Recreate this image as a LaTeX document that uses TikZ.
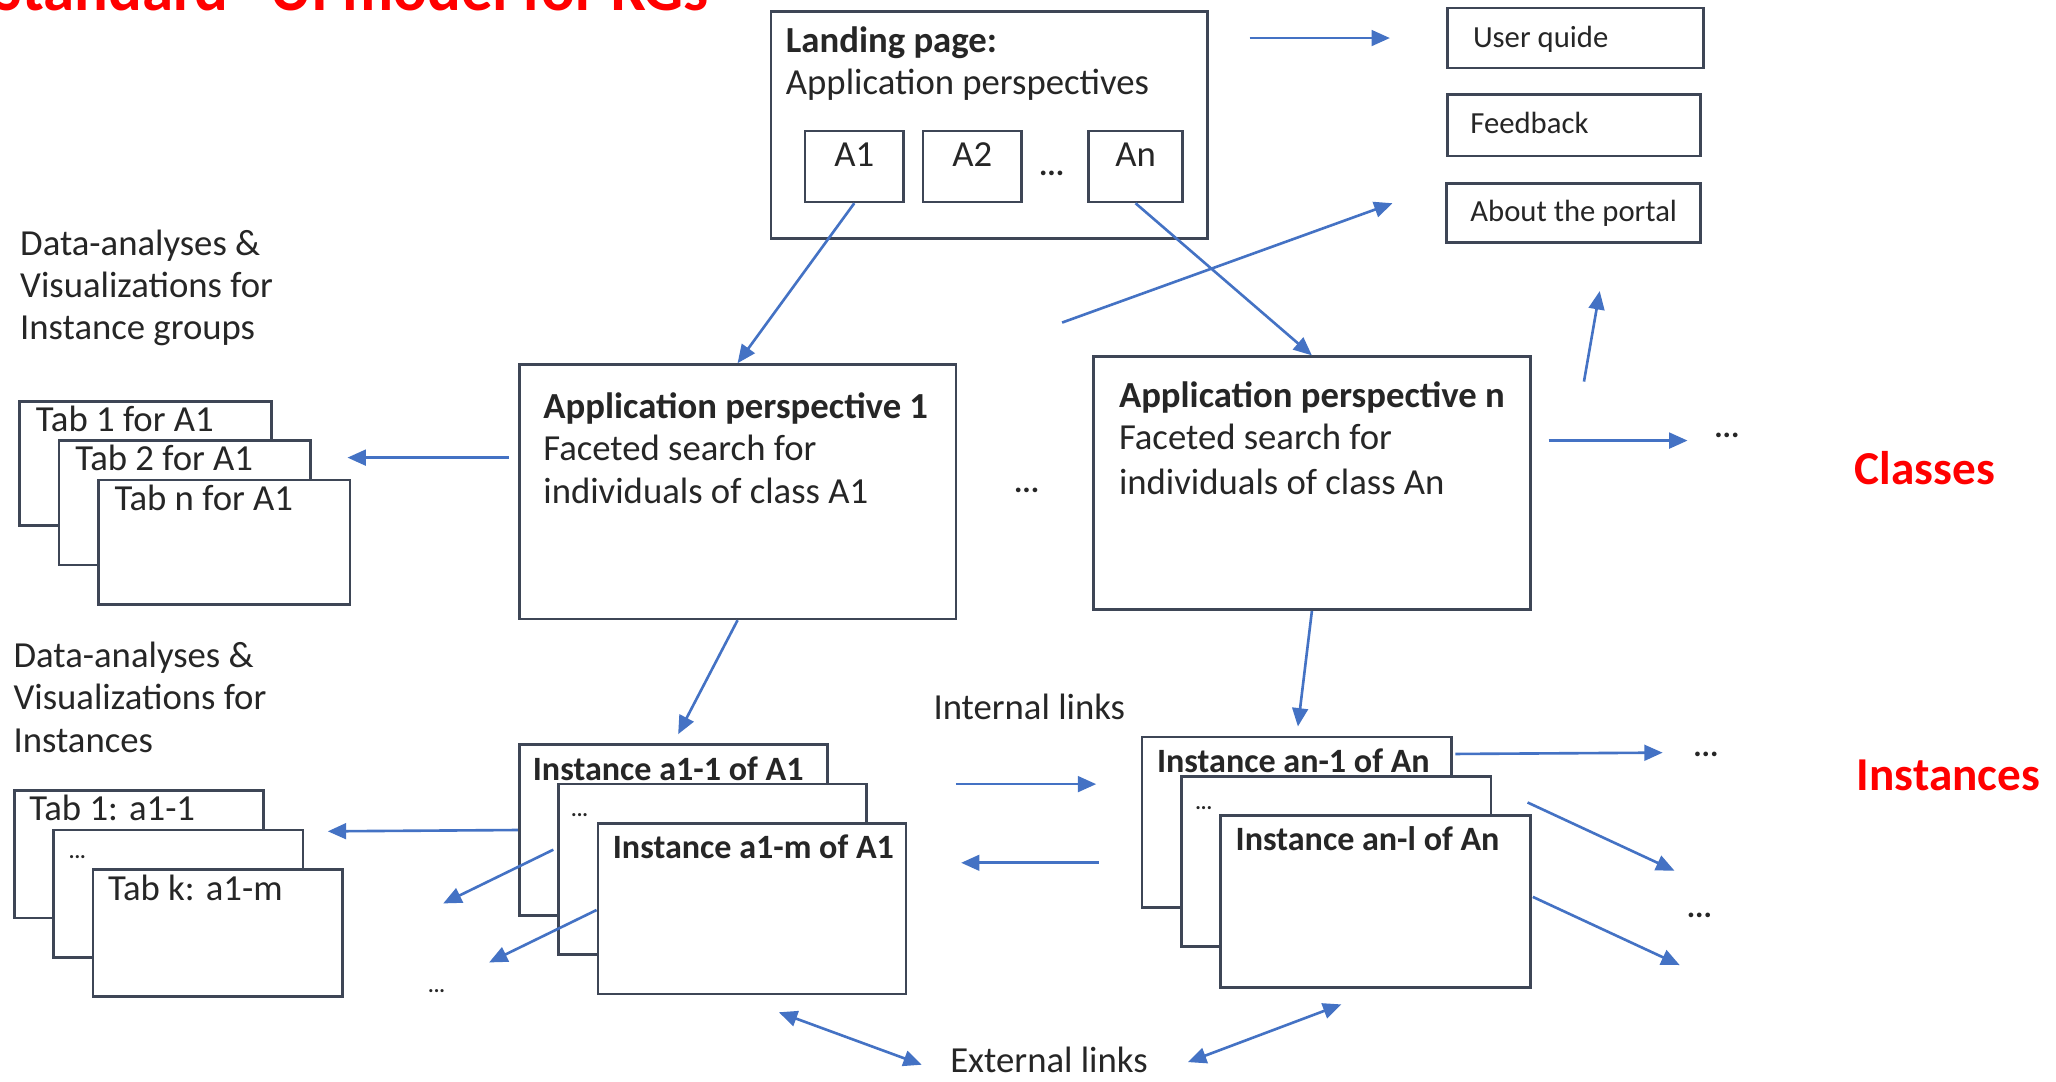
\documentclass[tikz,border=0pt]{standalone}
\usepackage{fontspec}
\setmainfont{Carlito}
\usetikzlibrary{arrows.meta,fit}
\definecolor{arrowblue}{RGB}{68,114,196}
\definecolor{boxline}{RGB}{62,70,86}
\definecolor{txtc}{RGB}{38,38,38}
\definecolor{redc}{RGB}{255,0,0}
\begin{document}
\begin{tikzpicture}[x=0.5pt,y=-0.5pt,
  box/.style={draw=boxline,line width=1pt,fill=white,inner sep=0pt,rectangle,text=txtc,font=\fontsize{14}{16}\selectfont},
  txt/.style={anchor=base west,inner sep=0pt,text=txtc,font=\fontsize{14}{16}\selectfont},
  btxt/.style={txt,font=\fontsize{14}{16}\selectfont\bfseries},
  itxt/.style={txt,font=\fontsize{13}{15}\selectfont\bfseries},
  stxt/.style={txt,font=\fontsize{11.7}{13}\selectfont},
  dotsnode/.style={inner sep=0pt,text=txtc,font=\fontsize{12}{14}\selectfont\bfseries},
  smalldots/.style={inner sep=0pt,text=txtc,font=\fontsize{8}{9}\selectfont\bfseries},
  sidelabel/.style={inner sep=0pt,text=redc,font=\fontsize{18}{20}\selectfont\bfseries},
  arr/.style={draw=arrowblue,line width=1pt,-{Triangle[length=7pt,width=6pt]}},
  darr/.style={draw=arrowblue,line width=1pt,{Triangle[length=7pt,width=6pt]}-{Triangle[length=7pt,width=6pt]}},
]
\useasboundingbox (0,0) rectangle (1568,825);
\clip (0,0) rectangle (1568,825);
\fill[white] (0,0) rectangle (1568,825);

% title (cut off at the top, as in the reference)
\node[anchor=base east,inner sep=0pt,text=redc,font=\fontsize{24}{28}\selectfont\bfseries] (title) at (541,8) {“Standard” UI model for KGs};

% landing page
\node[box,fit={(588,9) (921,182)}] (LP) {};
\node[btxt] (lpt1) at (599,40) {Landing page:};
\node[txt] (lpt2) at (599,72) {Application perspectives};
\node[box,fit={(614,100) (689,154)}] (A1) {A1};
\node[box,fit={(704,100) (779,154)}] (A2) {A2};
\node[box,fit={(830,100) (902,154)}] (An) {An};
\node[dotsnode] (lpdots) at (802,132) {...};

% right boxes
\node[box,fit={(1104,6) (1299,52)}] (UG) {};
\node[stxt] (ugt) at (1123,36) {User quide};
\node[box,fit={(1104,72) (1297,119)}] (FB) {};
\node[stxt] (fbt) at (1121,102) {Feedback};
\node[box,fit={(1103,140) (1297,185)}] (AB) {};
\node[stxt] (abt) at (1121,169) {About the portal};

% application perspectives
\node[box,fit={(396,278) (729,472)}] (AP1) {};
\node[btxt] (ap1a) at (414,319) {Application perspective 1};
\node[txt] (ap1b) at (414,351) {Faceted search for};
\node[txt] (ap1c) at (414,384) {individuals of class A1};
\node[box,fit={(834,272) (1167,465)}] (APn) {};
\node[btxt] (apna) at (853,311) {Application perspective n};
\node[txt] (apnb) at (853,343) {Faceted search for};
\node[txt] (apnc) at (853,377) {individuals of class An};
\node[dotsnode] (apdots) at (783,374) {...};

% data analyses for instance groups
\node[txt] (da1) at (15,195) {Data-analyses \&};
\node[txt] (da2) at (15,227) {Visualizations for};
\node[txt] (da3) at (15,259) {Instance groups};
\node[box,fit={(15,306) (207,401)}] (T1) {};
\node[txt] (t1t) at (27,329) {Tab 1 for A1};
\node[box,fit={(45,336) (237,431)}] (T2) {};
\node[txt] (t2t) at (57,359) {Tab 2 for A1};
\node[box,fit={(75,366) (267,461)}] (Tn) {};
\node[txt] (tnt) at (87,389) {Tab n for A1};

% data analyses for instances
\node[txt] (db1) at (10,509) {Data-analyses \&};
\node[txt] (db2) at (10,541) {Visualizations for};
\node[txt] (db3) at (10,574) {Instances};
\node[box,fit={(11,603) (201,700)}] (S1) {};
\node[txt] (s1t) at (22,626) {Tab 1: a1-1};
\node[box,fit={(41,633) (231,730)}] (S2) {};
\node[smalldots] (s2t) at (59,654) {...};
\node[box,fit={(71,663) (261,760)}] (Sk) {};
\node[txt] (skt) at (82,687) {Tab k: a1-m};

% instances of A1
\node[box,fit={(396,568) (631,698)}] (I1) {};
\node[itxt] (i1t) at (406,595) {Instance a1-1 of A1};
\node[box,fit={(426,598) (661,728)}] (I2) {};
\node[smalldots] (i2t) at (442,622) {...};
\node[box,fit={(456,628) (691,758)}] (Im) {};
\node[itxt] (imt) at (467,655) {Instance a1-m of A1};

% instances of An
\node[box,fit={(871,562) (1107,692)}] (J1) {};
\node[itxt] (j1t) at (882,589) {Instance an-1 of An};
\node[box,fit={(901,592) (1137,722)}] (J2) {};
\node[smalldots] (j2t) at (918,616) {...};
\node[box,fit={(931,622) (1167,753)}] (Jl) {};
\node[itxt] (jlt) at (942,649) {Instance an-l of An};

% labels
\node[inner sep=0pt,text=txtc,font=\fontsize{14}{16}\selectfont] (intl) at (785,539) {Internal links};
\node[anchor=base,inner sep=0pt,text=txtc,font=\fontsize{14}{16}\selectfont] (extl) at (800,818) {External links};
\node[sidelabel] (classes) at (1468,357) {Classes};
\node[sidelabel] (instances) at (1486,591) {Instances};
\node[dotsnode] (d1) at (1317,332) {...};
\node[dotsnode] (d2) at (1301,575) {...};
\node[dotsnode] (d3) at (1296,698) {...};
\node[smalldots] (d4) at (333,756) {...};

% free ends
\coordinate (ugS) at (953,29);
\coordinate (ugE) at (1060,29);
\coordinate (abS) at (810,246);
\coordinate (abE) at (1062,155);
\coordinate (upS) at (1208,291);
\coordinate (upE) at (1220,222);
\coordinate (tabS) at (388,349);
\coordinate (tabE) at (265,349);
\coordinate (apnS) at (1181,336);
\coordinate (apnE) at (1287,336);
\coordinate (s1E) at (250,634);
\coordinate (i2S) at (422,648);
\coordinate (i2E) at (338,689);
\coordinate (imS) at (455,694);
\coordinate (imE) at (373,734);
\coordinate (ilrS) at (729,598);
\coordinate (ilrE) at (836,598);
\coordinate (illS) at (838,658);
\coordinate (illE) at (733,658);
\coordinate (j1S) at (1110,575);
\coordinate (j1E) at (1268,574);
\coordinate (j2S) at (1165,612);
\coordinate (j2E) at (1277,664);
\coordinate (jlS) at (1169,684);
\coordinate (jlE) at (1281,736);
\coordinate (e1a) at (594,772);
\coordinate (e1b) at (703,812);
\coordinate (e2a) at (906,810);
\coordinate (e2b) at (1023,766);

% connectors
\draw[arr] (ugS) -- (ugE);
\draw[arr] (abS) -- (abE);
\draw[arr] (A1.south) -- (AP1.north);
\draw[arr] (An.south) -- (APn.north);
\draw[arr] (upS) -- (upE);
\draw[arr] (tabS) -- (tabE);
\draw[arr] (apnS) -- (apnE);
\draw[arr,shorten >=4pt] (AP1.south) -- (I1.north);
\draw[arr,shorten >=3.5pt] (APn.south) -- (J1.north);
\draw[arr] (I1.west) -- (s1E);
\draw[arr] (i2S) -- (i2E);
\draw[arr] (imS) -- (imE);
\draw[arr] (ilrS) -- (ilrE);
\draw[arr] (illS) -- (illE);
\draw[arr] (j1S) -- (j1E);
\draw[arr] (j2S) -- (j2E);
\draw[arr] (jlS) -- (jlE);
\draw[darr] (e1a) -- (e1b);
\draw[darr] (e2a) -- (e2b);
\end{tikzpicture}
\end{document}
